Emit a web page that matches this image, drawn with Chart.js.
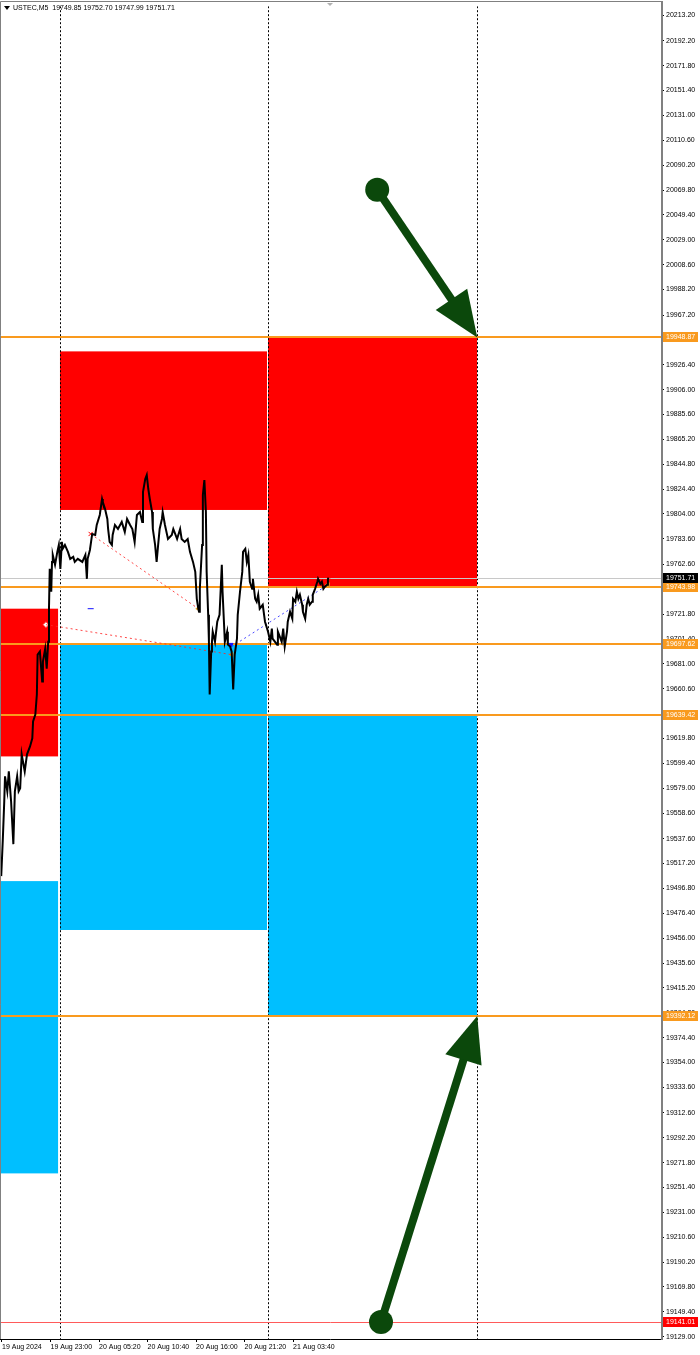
<!DOCTYPE html>
<html>
<head>
<meta charset="utf-8">
<script src="https://cdn.jsdelivr.net/npm/chart.js@4.4.1/dist/chart.umd.min.js"></script>
<style>
  html, body { margin: 0; padding: 0; background: #fff; }
  #wrap { width: 700px; height: 1355px; }
</style>
</head>
<body>
<div id="wrap"><canvas id="myChart" width="700" height="1355"></canvas></div>
<script>
// M5 bar number (from 19 Aug 2024 chart start) and price
const bars = [
  -1, 1, 3, 4, 7, 9, 12, 15, 17, 20,
  22, 24, 26, 30, 33, 37, 40, 41, 44, 46,
  47, 50, 53, 54, 57, 59, 61, 62, 63, 65,
  66, 67, 70, 73, 75, 77, 79, 80, 83, 87,
  90, 94, 96, 100, 106, 110, 112, 113, 116, 119,
  123, 125, 129, 132, 133, 136, 139, 140, 142, 145,
  146, 149, 153, 158, 162, 165, 169, 172, 175, 178,
  182, 185, 186, 189, 191, 193, 195, 198, 199, 202,
  204, 206, 208, 211, 212, 215, 219, 224, 226, 231,
  235, 237, 241, 245, 248, 252, 255, 257, 259, 260,
  261, 264, 265, 267, 269, 270, 272, 273, 274, 276,
  277, 278, 281, 284, 287, 290, 291, 294, 297, 298,
  301, 303, 305, 307, 310, 311, 314, 317, 318, 321,
  323, 325, 327, 330, 331, 334, 336, 338, 340, 344,
  347, 351, 354, 356, 357, 363, 364, 369, 371, 373,
  376, 377, 380, 383, 384, 387, 389, 391, 393, 396,
  397, 400, 402, 404, 406, 409, 410, 413, 416, 417,
  420, 422, 424, 426, 429, 430, 431
];
const closes = [
  19506.9, 19535.6, 19568.3, 19588.8, 19576.5, 19592.8, 19568.3, 19533.1, 19576.5, 19588.8,
  19576.5, 19578.9, 19606.8, 19592.8, 19606.8, 19613.3, 19619.9, 19633.8, 19639.5, 19655.9,
  19688.6, 19691.1, 19666.5, 19682.9, 19693.5, 19677.1, 19699.2, 19726.3, 19759.0, 19740.2,
  19764.7, 19770.4, 19762.3, 19772.9, 19778.6, 19759.0, 19781.1, 19775.4, 19778.6, 19772.9,
  19767.2, 19768.8, 19764.7, 19767.2, 19764.7, 19770.4, 19750.8, 19767.2, 19774.5, 19787.6,
  19786.8, 19795.0, 19803.2, 19816.3, 19813.8, 19808.1, 19799.9, 19791.7, 19781.1, 19778.6,
  19786.8, 19795.0, 19791.7, 19797.5, 19789.3, 19799.9, 19795.0, 19791.7, 19781.1, 19803.2,
  19805.6, 19797.5, 19822.0, 19832.6, 19835.9, 19824.5, 19816.3, 19805.6, 19791.7, 19778.6,
  19764.7, 19778.6, 19791.7, 19799.9, 19805.6, 19795.0, 19783.5, 19786.8, 19791.7, 19783.5,
  19791.7, 19783.5, 19781.1, 19783.5, 19772.9, 19764.7, 19756.5, 19734.4, 19726.3, 19723.8,
  19742.6, 19778.6, 19819.6, 19831.8, 19805.6, 19756.5, 19721.3, 19699.2, 19655.9, 19691.1,
  19699.2, 19707.4, 19699.2, 19715.6, 19721.3, 19762.3, 19740.2, 19699.2, 19707.4, 19696.8,
  19695.2, 19691.1, 19660.0, 19688.6, 19701.7, 19721.3, 19740.2, 19756.5, 19772.9, 19775.4,
  19764.7, 19770.4, 19748.4, 19742.6, 19750.8, 19734.4, 19732.0, 19737.7, 19726.3, 19729.5,
  19715.6, 19707.4, 19699.2, 19709.9, 19701.7, 19696.8, 19707.4, 19699.2, 19709.9, 19695.2,
  19707.4, 19715.6, 19723.8, 19718.1, 19734.4, 19732.0, 19740.2, 19734.4, 19737.7, 19729.5,
  19723.8, 19718.1, 19729.5, 19734.4, 19729.5, 19732.0, 19737.7, 19742.6, 19748.4, 19750.8,
  19746.7, 19748.4, 19742.6, 19744.3, 19745.9, 19750.8, 19751.71
];

const priceTicks = [
  20213.20, 20192.20, 20171.80, 20151.40, 20131.00, 20110.60, 20090.20, 20069.80, 20049.40, 20029.00,
  20008.60, 19988.20, 19967.20, 19946.80, 19926.40, 19906.00, 19885.60, 19865.20, 19844.80, 19824.40,
  19804.00, 19783.60, 19762.60, 19742.20, 19721.80, 19701.40, 19681.00, 19660.60, 19640.20, 19619.80,
  19599.40, 19579.00, 19558.60, 19537.60, 19517.20, 19496.80, 19476.40, 19456.00, 19435.60, 19415.20,
  19394.80, 19374.40, 19354.00, 19333.60, 19312.60, 19292.20, 19271.80, 19251.40, 19231.00, 19210.60,
  19190.20, 19169.80, 19149.40, 19129.00
];
const timeTickBars = [0, 64, 128, 192, 256, 320, 384];
const timeTickLabels = ["19 Aug 2024", "19 Aug 23:00", "20 Aug 05:20", "20 Aug 10:40", "20 Aug 16:00", "20 Aug 21:20", "21 Aug 03:40"];

const levels = [19948.87, 19743.98, 19697.62, 19639.42, 19392.12];
const stopLevel = 19141.01;
const lastPrice = 19751.71;
const headerText = "USTEC,M5  19749.85 19752.70 19747.99 19751.71";

// zones: [bar from, bar to, low, high]
const redZones = [[-3, 74, 19605.1, 19726.3], [76.5, 349.6, 19807.3, 19937.4], [351, 626.7, 19743.98, 19948.87]];
const blueZones = [[-3, 74, 19263.0, 19502.8], [76.5, 349.6, 19462.7, 19697.62], [351, 626.7, 19392.12, 19639.42]];
const daySeparators = [76.5, 351, 626.7];

// arrows: start point -> tip
const arrowStarts = [[495, 20070.0], [500, 19141.01]];
const arrowTips = [[627, 19948.87], [627, 19392.12]];

// dotted trend lines
const redTrendA = [[117, 19787.6], [259, 19726.3]];
const redTrendB = [[58, 19713.2], [303, 19688.6]];
const blueTrend = [[303, 19695.2], [430, 19745.9]];

const font7 = '7px "Liberation Sans", Arial, sans-serif';
const orange = "#f99a1e";

const backPlugin = {
  id: "back",
  beforeDatasetsDraw(chart) {
    const { ctx, chartArea: a, scales: { x, y } } = chart;
    ctx.save();
    ctx.beginPath();
    ctx.rect(0, a.top, a.right, a.height);
    ctx.clip();
    const zone = (z, color) => {
      const x1 = x.getPixelForValue(z[0]), x2 = x.getPixelForValue(z[1]);
      const y1 = y.getPixelForValue(z[3]), y2 = y.getPixelForValue(z[2]);
      ctx.fillStyle = color;
      ctx.fillRect(x1, y1, x2 - x1, y2 - y1);
    };
    redZones.forEach((z) => zone(z, "#ff0000"));
    blueZones.forEach((z) => zone(z, "#00bfff"));

    ctx.strokeStyle = "#000";
    ctx.lineWidth = 1;
    ctx.setLineDash([2, 2]);
    daySeparators.forEach((s) => {
      const px = Math.round(x.getPixelForValue(s)) + 0.5;
      ctx.beginPath();
      ctx.moveTo(px, a.top);
      ctx.lineTo(px, a.bottom);
      ctx.stroke();
    });
    ctx.setLineDash([]);

    // current price line
    let py = Math.round(y.getPixelForValue(lastPrice)) + 0.5;
    ctx.strokeStyle = "#c8c8c8";
    ctx.beginPath(); ctx.moveTo(0, py); ctx.lineTo(a.right, py); ctx.stroke();

    // stop level
    py = Math.round(y.getPixelForValue(stopLevel)) + 0.5;
    ctx.strokeStyle = "#ff5a5a";
    ctx.beginPath(); ctx.moveTo(0, py); ctx.lineTo(a.right, py); ctx.stroke();

    ctx.strokeStyle = orange;
    ctx.lineWidth = 2;
    levels.forEach((v) => {
      const ly = Math.round(y.getPixelForValue(v));
      ctx.beginPath(); ctx.moveTo(0, ly); ctx.lineTo(a.right, ly); ctx.stroke();
    });
    ctx.restore();
  },
};

const frontPlugin = {
  id: "front",
  afterDraw(chart) {
    const { ctx, chartArea: a, scales: { x, y } } = chart;
    ctx.save();

    // arrows
    const green = "#0b480b";
    arrowStarts.forEach((s, i) => {
      const sx = x.getPixelForValue(s[0]), sy = y.getPixelForValue(s[1]);
      const tx = x.getPixelForValue(arrowTips[i][0]), ty = y.getPixelForValue(arrowTips[i][1]);
      const len = Math.hypot(tx - sx, ty - sy);
      const ux = (tx - sx) / len, uy = (ty - sy) / len;
      const headLen = 46, headHalf = 19;
      const bx = tx - ux * headLen, by = ty - uy * headLen;
      ctx.strokeStyle = green;
      ctx.fillStyle = green;
      ctx.lineWidth = 8;
      ctx.lineCap = "butt";
      ctx.beginPath(); ctx.moveTo(sx, sy); ctx.lineTo(bx + ux * 2, by + uy * 2); ctx.stroke();
      ctx.beginPath(); ctx.arc(sx, sy, 12, 0, Math.PI * 2); ctx.fill();
      ctx.beginPath();
      ctx.moveTo(tx, ty);
      ctx.lineTo(bx - uy * headHalf, by + ux * headHalf);
      ctx.lineTo(bx + uy * headHalf, by - ux * headHalf);
      ctx.closePath();
      ctx.fill();
    });

    // frame
    ctx.lineWidth = 1;
    ctx.strokeStyle = "#808080";
    ctx.beginPath();
    ctx.moveTo(0.5, a.bottom); ctx.lineTo(0.5, 1.5); ctx.lineTo(a.right, 1.5);
    ctx.stroke();
    ctx.strokeStyle = "#000";
    ctx.beginPath(); ctx.moveTo(0, a.bottom + 0.5); ctx.lineTo(a.right, a.bottom + 0.5); ctx.stroke();
    ctx.strokeStyle = "#808080";
    ctx.lineWidth = 2;
    ctx.beginPath(); ctx.moveTo(a.right + 1, 1); ctx.lineTo(a.right + 1, a.bottom + 1); ctx.stroke();

    // price tags on the axis
    const tag = (v, bg, txt) => {
      const py = Math.round(y.getPixelForValue(v));
      ctx.fillStyle = bg;
      ctx.fillRect(a.right + 2, py - 5, 35, 10);
      ctx.fillStyle = "#fff";
      ctx.font = font7;
      ctx.textBaseline = "middle";
      ctx.textAlign = "left";
      ctx.fillText(txt, a.right + 5, py + 0.5);
    };
    levels.forEach((v) => tag(v, orange, v.toFixed(2)));
    tag(lastPrice, "#000", lastPrice.toFixed(2));
    tag(stopLevel, "#ff0000", stopLevel.toFixed(2));

    // header
    ctx.fillStyle = "#000";
    ctx.beginPath(); ctx.moveTo(4, 6); ctx.lineTo(10, 6); ctx.lineTo(7, 10); ctx.closePath(); ctx.fill();
    ctx.font = font7;
    ctx.textBaseline = "middle";
    ctx.textAlign = "left";
    ctx.fillText(headerText, 13, 8.5);
    ctx.fillStyle = "#b0b0b0";
    ctx.beginPath(); ctx.moveTo(327, 3); ctx.lineTo(333, 3); ctx.lineTo(330, 6); ctx.closePath(); ctx.fill();
    ctx.restore();
  },
};

const pts = (arr) => arr.map((p) => ({ x: p[0], y: p[1] }));
const marker = (xv, yv, style, color, fill, r, rot) => ({
  data: [{ x: xv, y: yv }],
  showLine: false,
  pointStyle: style,
  pointRadius: r,
  pointRotation: rot || 0,
  pointBorderColor: color,
  pointBackgroundColor: fill,
  pointBorderWidth: 1,
});

const ctx = document.getElementById("myChart").getContext("2d");
const myChart = new Chart(ctx, {
  type: "line",
  data: {
    datasets: [
      {
        label: "USTEC,M5",
        data: bars.map((b, i) => ({ x: b, y: closes[i] })),
        borderColor: "#000",
        borderWidth: 2,
        pointRadius: 0,
        tension: 0,
      },
      { data: pts(redTrendA), borderColor: "rgba(255,40,40,0.85)", borderWidth: 1, borderDash: [2, 3], pointRadius: 0 },
      { data: pts(redTrendB), borderColor: "rgba(255,40,40,0.85)", borderWidth: 1, borderDash: [2, 3], pointRadius: 0 },
      { data: pts(blueTrend), borderColor: "rgba(40,40,255,0.85)", borderWidth: 1, borderDash: [2, 3], pointRadius: 0 },
      marker(58, 19713.2, "rectRot", "#ff3030", "#fff", 3),
      marker(117, 19787.6, "crossRot", "#ff0000", "#ff0000", 3),
      marker(117, 19726.3, "line", "#1010ff", "#1010ff", 3),
      marker(259, 19726.3, "triangle", "#e0a020", "#f0b020", 2.5, -90),
      marker(302, 19696.8, "triangle", "#1010ff", "#1010ff", 2.5, 180),
      marker(303, 19688.6, "triangle", "#e0a020", "#f0b020", 2.5, -90),
      marker(430, 19745.9, "triangle", "#e0a020", "#f0b020", 2.5, -90),
    ],
  },
  options: {
    responsive: false,
    animation: false,
    layout: { autoPadding: false, padding: { left: 1, top: 3, right: 0, bottom: 0 } },
    plugins: { legend: { display: false }, tooltip: { enabled: false } },
    scales: {
      x: {
        type: "linear",
        min: -1.3,
        max: 869.4,
        afterBuildTicks: (scale) => { scale.ticks = timeTickBars.map((v) => ({ value: v })); },
        afterFit: (scale) => { scale.height = 16; },
        ticks: {
          callback: (v, i) => timeTickLabels[i],
          align: "start",
          autoSkip: false,
          maxRotation: 0,
          padding: 1,
          color: "#000",
          font: { family: '"Liberation Sans", Arial, sans-serif', size: 7 },
        },
        grid: { drawOnChartArea: false, tickLength: 3, color: "#000" },
        border: { display: false },
      },
      y: {
        position: "right",
        min: 19127.13,
        max: 20220.6,
        afterBuildTicks: (scale) => { scale.ticks = priceTicks.map((v) => ({ value: v })); },
        afterFit: (scale) => { scale.width = 39; },
        ticks: {
          callback: (v) => Number(v).toFixed(2),
          autoSkip: false,
          padding: 2,
          color: "#000",
          font: { family: '"Liberation Sans", Arial, sans-serif', size: 7 },
        },
        grid: { drawOnChartArea: false, tickLength: 3, color: "#000" },
        border: { display: false },
      },
    },
  },
  plugins: [backPlugin, frontPlugin],
});
</script>
</body>
</html>
